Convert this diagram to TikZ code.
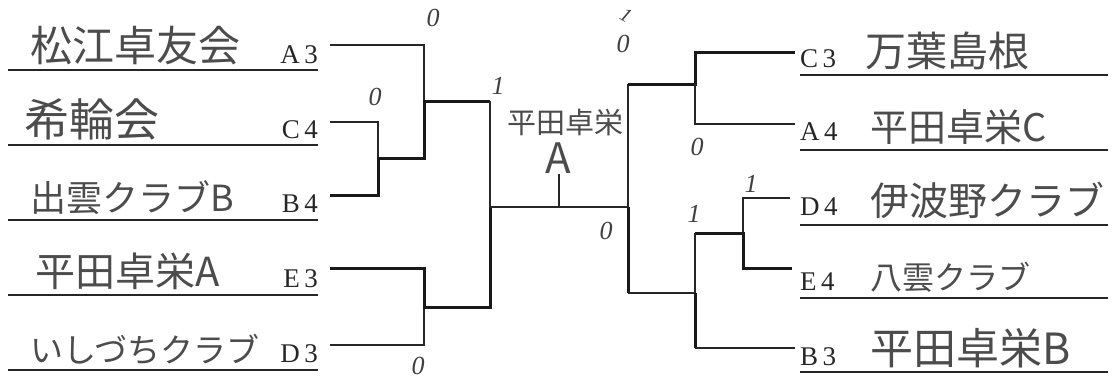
\documentclass[tikz,border=0pt]{standalone}
\usepackage{fontspec}
\newfontfamily\jp{Noto Sans CJK JP}
\newfontfamily\codefont{Liberation Serif}
\begin{document}
\begin{tikzpicture}[x=1pt,y=-1pt,
  thin line/.style={draw=black!85,line width=1.1pt},
  thick line/.style={draw=black!90,line width=3pt},
  mid line/.style={draw=black!85,line width=2pt},
  under/.style={draw=black!85,line width=1.2pt},
  hand/.style={font=\jp\fontsize{#1}{#1}\selectfont,text=black!70,inner sep=0pt,anchor=base west},
  codel/.style={font=\codefont\fontsize{27}{27}\selectfont,inner sep=0pt,anchor=base east,text=black!85},
  coder/.style={font=\codefont\fontsize{27}{27}\selectfont,inner sep=0pt,anchor=base west,text=black!85},
  score/.style={font=\codefont\fontsize{26}{26}\selectfont\itshape,text=black!75,inner sep=0pt}]
\useasboundingbox (0,0) rectangle (1120,381);
\fill[white] (0,0) rectangle (1120,381);

% ---------- left names ----------
\coordinate (ul1a) at (8,70);   \coordinate (ul1b) at (318,70);
\coordinate (ul2a) at (8,145);  \coordinate (ul2b) at (318,145);
\coordinate (ul3a) at (8,220);  \coordinate (ul3b) at (318,220);
\coordinate (ul4a) at (8,295);  \coordinate (ul4b) at (318,295);
\coordinate (ul5a) at (8,370);  \coordinate (ul5b) at (318,370);
\draw[under] (ul1a) -- (ul1b);
\draw[under] (ul2a) -- (ul2b);
\draw[under] (ul3a) -- (ul3b);
\draw[under] (ul4a) -- (ul4b);
\draw[under] (ul5a) -- (ul5b);

\node[hand=42] (n1) at (30,61) {松江卓友会};
\node[hand=45] (n2) at (24,136) {希輪会};
\node[hand=36] (n3) at (30,211) {出雲クラブB};
\node[hand=40] (n4) at (35,286) {平田卓栄A};
\node[hand=33] (n5) at (30,362) {いしづちクラブ};

\node[codel] (cA3) at (318,63) {A\,3};
\node[codel] (cC4) at (318,138) {C\,4};
\node[codel] (cB4) at (318,212) {B\,4};
\node[codel] (cE3) at (318,287) {E\,3};
\node[codel] (cD3) at (318,362) {D\,3};

% ---------- right names ----------
\coordinate (ur1a) at (800,75);  \coordinate (ur1b) at (1108,75);
\coordinate (ur2a) at (800,150); \coordinate (ur2b) at (1108,150);
\coordinate (ur3a) at (800,225); \coordinate (ur3b) at (1108,225);
\coordinate (ur4a) at (800,298); \coordinate (ur4b) at (1108,298);
\coordinate (ur5a) at (800,372); \coordinate (ur5b) at (1108,372);
\draw[under] (ur1a) -- (ur1b);
\draw[under] (ur2a) -- (ur2b);
\draw[under] (ur3a) -- (ur3b);
\draw[under] (ur4a) -- (ur4b);
\draw[under] (ur5a) -- (ur5b);

\node[coder] (cC3) at (800,67) {C\,3};
\node[coder] (cA4) at (800,140) {A\,4};
\node[coder] (cD4) at (800,215) {D\,4};
\node[coder] (cE4) at (800,290) {E\,4};
\node[coder] (cB3) at (800,365) {B\,3};

\node[hand=41] (r1) at (865,66) {万葉島根};
\node[hand=38] (r2) at (870,141) {平田卓栄C};
\node[hand=39] (r3) at (870,215) {伊波野クラブ};
\node[hand=32] (r4) at (870,289) {八雲クラブ};
\node[hand=43] (r5) at (870,364) {平田卓栄B};

% ---------- left bracket ----------
\coordinate (lA3) at (330,45);
\coordinate (lC4) at (330,122);
\coordinate (lB4) at (330,195);
\coordinate (lE3) at (330,268);
\coordinate (lD3) at (330,345);
\coordinate (m1a) at (378,122);
\coordinate (m1b) at (378,195);
\coordinate (m1)  at (378,158);
\coordinate (m2a) at (424,45);
\coordinate (m2b) at (424,158);
\coordinate (m2)  at (424,101);
\coordinate (m3a) at (424,268);
\coordinate (m3b) at (424,345);
\coordinate (m3)  at (424,307);
\coordinate (m4a) at (490,101);
\coordinate (m4b) at (490,307);
\coordinate (m4)  at (490,207);

\draw[thin line] (lA3) -- (m2a) -- (m2b);
\draw[thin line] (lC4) -- (m1a) -- (m1);
\draw[thick line] (lB4) -- (m1b) -- (m1) -- (m2b) -- (m2) -- (m4a);
\draw[thin line] (lD3) -- (m3b) -- (m3);
\draw[thick line] (lE3) -- (m3a) -- (m3) -- (m4b) -- (m4);
\draw[thin line] (m4a) -- (m4);

% ---------- final ----------
\coordinate (f1) at (628,207);
\coordinate (fs) at (559,207);
\coordinate (fst) at (559,174);
\draw[thin line] (m4) -- (f1);
\draw[thin line] (fs) -- (fst);
\node[font=\jp\fontsize{29}{29}\selectfont,text=black!70,inner sep=0pt] (champ) at (565,123) {平田卓栄};
\node[font=\jp\fontsize{42}{42}\selectfont,text=black!70,inner sep=0pt] (champA) at (558,158) {A};

% ---------- right bracket ----------
\coordinate (m5a) at (628,84);
\coordinate (m5b) at (628,293);
\coordinate (m6a) at (695,52);
\coordinate (m6b) at (695,124);
\coordinate (m6)  at (695,84);
\coordinate (rC3) at (795,52);
\coordinate (rA4) at (795,124);
\coordinate (m7a) at (743,198);
\coordinate (m7b) at (743,268);
\coordinate (m7)  at (743,233);
\coordinate (rD4) at (790,198);
\coordinate (rE4) at (792,268);
\coordinate (m8a) at (695,233);
\coordinate (m8b) at (695,348);
\coordinate (m8)  at (695,293);
\coordinate (rB3) at (795,348);

\draw[thin line] (m5a) -- (f1);
\draw[thick line] (f1) -- (m5b);
\draw[thick line] (m5a) -- (m6) -- (m6a) -- (rC3);
\draw[thin line] (m6) -- (m6b) -- (rA4);
\draw[thin line] (rD4) -- (m7a) -- (m7);
\draw[thick line] (rE4) -- (m7b) -- (m7) -- (m8a);
\draw[thin line] (m8a) -- (m8);
\draw[mid line] (m5b) -- (m8);
\draw[thick line] (m8) -- (m8b);
\draw[mid line] (m8b) -- (rB3);

% ---------- scores ----------
\node[score] (s1) at (433,18) {0};
\node[score] (s2) at (375,97) {0};
\node[score] (s3) at (498,86) {1};
\node[score,rotate=-30,font=\codefont\fontsize{20}{20}\selectfont\itshape] (s4) at (626,15) {1};
\node[score] (s5) at (623,44) {0};
\node[score] (s6) at (697,147) {0};
\node[score] (s7) at (606,231) {0};
\node[score] (s8) at (694,214) {1};
\node[score] (s9) at (751,184) {1};
\node[score] (s10) at (418,366) {0};
\end{tikzpicture}
\end{document}
